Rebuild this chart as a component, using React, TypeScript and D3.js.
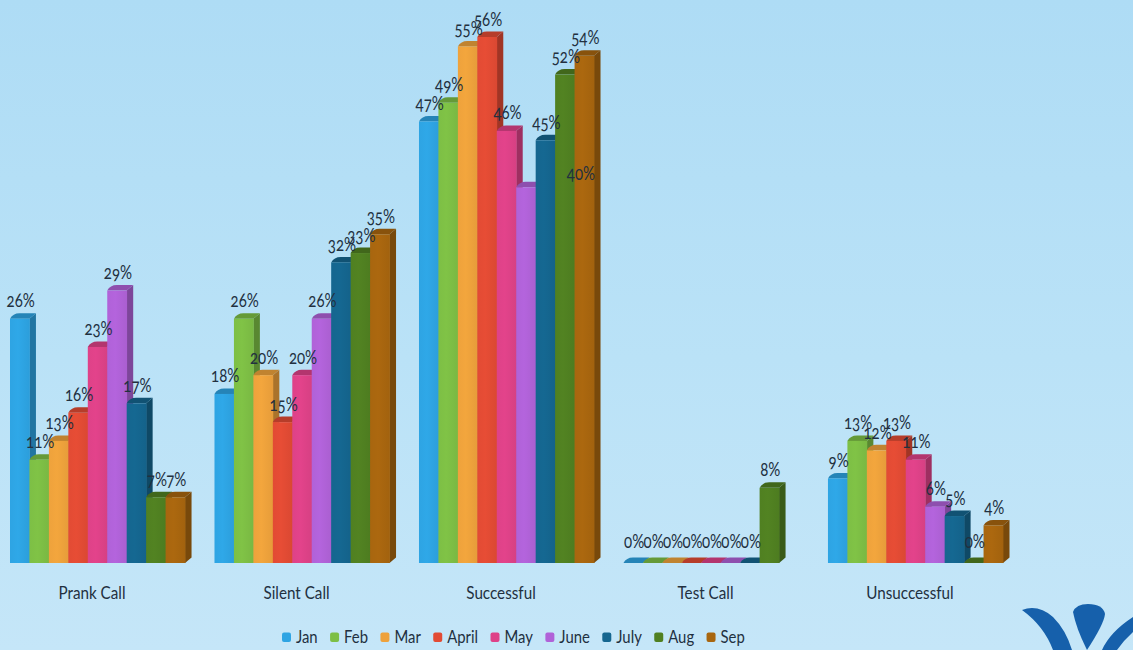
import React from "react";
import * as d3 from "d3";

const categories = ["Prank Call", "Silent Call", "Successful", "Test Call", "Unsuccessful"];
const months = ["Jan", "Feb", "Mar", "April", "May", "June", "July", "Aug", "Sep"];
const monthColors = ["#2ea4e3", "#7dbf45", "#eea23c", "#e24b34", "#de4288", "#b062d8", "#15668f", "#508021", "#a8660f"];

const prankCall = [26, 11, 13, 16, 23, 29, 17, 7, 7];
const silentCall = [18, 26, 20, 15, 20, 26, 32, 33, 35];
const successful = [47, 49, 55, 56, 46, 40, 45, 52, 54];
const testCall: (number | null)[] = [0, 0, 0, 0, 0, 0, 0, 8, null];
const unsuccessful = [9, 13, 12, 13, 11, 6, 5, 0, 4];
const seriesByCategory = [prankCall, silentCall, successful, testCall, unsuccessful];

const WIDTH = 1133;
const HEIGHT = 650;
const DEPTH_X = 6.5;
const DEPTH_Y = 5.5;
const FONT = "Lato, 'Open Sans', sans-serif";
const TEXT_COLOR = "#22303f";

const xGroup = d3.scaleBand<string>().domain(categories).range([10, 1003]).paddingInner(0.144);
const xMonth = d3.scaleBand<string>().domain(months).range([0, xGroup.bandwidth()]);
const y = d3.scaleLinear().domain([0, 56]).range([563, 37]);

// The June label in "Successful" sits over the September bar.
const labelShift = (cat: string, month: string) =>
  cat === "Successful" && month === "June" ? { dx: 54, dy: 4 } : { dx: 0, dy: 0 };

const darker = (c: string, k: number) => d3.color(c)!.darker(k).formatHex();

function Squeezed({ x, y: yy, anchor = "middle", size = 17, sx = 0.9, children }: any) {
  return (
    <text
      transform={`translate(${x},${yy}) scale(${sx},1)`}
      textAnchor={anchor}
      fontFamily={FONT}
      fontSize={size}
      fill={TEXT_COLOR}
      style={{ fontVariantNumeric: "oldstyle-nums" }}
    >
      {children}
    </text>
  );
}

function Bar({ x0, w, value, base, color, id }: any) {
  const top = y(value);
  const x1 = x0 + w;
  const topPath = d3.path();
  topPath.moveTo(x0, top);
  topPath.quadraticCurveTo(x0 + DEPTH_X * 0.45, top - DEPTH_Y, x0 + DEPTH_X + 3, top - DEPTH_Y);
  topPath.lineTo(x1 + DEPTH_X, top - DEPTH_Y);
  topPath.lineTo(x1, top);
  topPath.closePath();
  const sidePath = d3.path();
  sidePath.moveTo(x1, top);
  sidePath.lineTo(x1 + DEPTH_X, top - DEPTH_Y);
  sidePath.lineTo(x1 + DEPTH_X, base - DEPTH_Y);
  sidePath.lineTo(x1, base);
  sidePath.closePath();
  return (
    <g>
      <path d={sidePath.toString()} fill={darker(color, 0.95)} />
      <path d={topPath.toString()} fill={darker(color, 0.6)} />
      <rect x={x0} y={top} width={w + 0.4} height={base - top} fill={`url(#${id})`} />
    </g>
  );
}

// Legend entries are laid out from the measured width of their labels.
function legendLayout() {
  const ctx = document.createElement("canvas").getContext("2d")!;
  ctx.font = `17.5px ${FONT}`;
  const widths = months.map((m) => ctx.measureText(m).width * 0.85);
  const swatch = 14;
  const gap = 12.4;
  const xs: number[] = [];
  let cursor = 282;
  widths.forEach((w) => {
    xs.push(cursor);
    cursor += swatch + w + gap;
  });
  return { xs, swatch };
}

export default function App() {
  const base = y(0);
  const w = xMonth.bandwidth();
  const legend = legendLayout();
  return (
    <svg
      width={WIDTH}
      height={HEIGHT}
      viewBox={`0 0 ${WIDTH} ${HEIGHT}`}
      style={{ position: "absolute", left: 0, top: 0, display: "block" }}
    >
      <defs>
        <linearGradient id="page" x1="0" y1="0" x2="0" y2="1">
          <stop offset="0" stopColor="#aedcf5" />
          <stop offset="0.55" stopColor="#bae2f7" />
          <stop offset="1" stopColor="#c5e6f8" />
        </linearGradient>
        {months.map((m, i) => (
          <linearGradient key={m} id={`bar-${i}`} x1="0" y1="0" x2="1" y2="0">
            <stop offset="0" stopColor={monthColors[i]} />
            <stop offset="0.4" stopColor={d3.color(monthColors[i])!.brighter(0.06).formatHex()} />
            <stop offset="1" stopColor={darker(monthColors[i], 0.1)} />
          </linearGradient>
        ))}
      </defs>
      <rect width={WIDTH} height={HEIGHT} fill="url(#page)" />

      {categories.map((cat, ci) => {
        const gx = xGroup(cat)!;
        return (
          <g key={cat}>
            {months.map((m, i) => {
              const v = seriesByCategory[ci][i];
              if (v == null) return null;
              return (
                <Bar key={m} x0={gx + xMonth(m)!} w={w} value={v} base={base} color={monthColors[i]} id={`bar-${i}`} />
              );
            })}
            <Squeezed x={gx + xGroup.bandwidth() / 2 - 5.5} y={599} size={17.5} sx={0.87}>
              {cat}
            </Squeezed>
          </g>
        );
      })}

      {categories.map((cat, ci) => (
        <g key={cat}>
          {months.map((m, i) => {
            const v = seriesByCategory[ci][i];
            if (v == null) return null;
            const s = labelShift(cat, m);
            const lift = v === 0 ? 15 : 11.5;
            return (
              <Squeezed
                key={m}
                x={xGroup(cat)! + xMonth(m)! + w / 2 + 1 + s.dx}
                y={y(v) - lift + s.dy}
                size={19.5}
                sx={0.77}
              >
                {`${v}%`}
              </Squeezed>
            );
          })}
        </g>
      ))}

      {months.map((m, i) => (
        <g key={m}>
          <rect x={legend.xs[i]} y={632.5} width={9} height={9.5} rx={2} fill={monthColors[i]} />
          <Squeezed x={legend.xs[i] + legend.swatch} y={643} anchor="start" size={17.5} sx={0.85}>
            {m}
          </Squeezed>
        </g>
      ))}

      {/* Company mark in the lower right corner */}
      <g fill="#1660ab">
        <path d="M1022 610 Q1038 604 1053 617 Q1066 630 1072 650 L1053 650 Q1044 626 1022 610 Z" />
        <path d="M1073 612 Q1076 604 1088 604 Q1103 604 1105 614 Q1104 624 1087 650 Q1076 628 1073 612 Z" />
        <path d="M1133 617 Q1110 632 1102 650 L1117 650 Q1124 640 1133 632 Z" />
      </g>
    </svg>
  );
}
